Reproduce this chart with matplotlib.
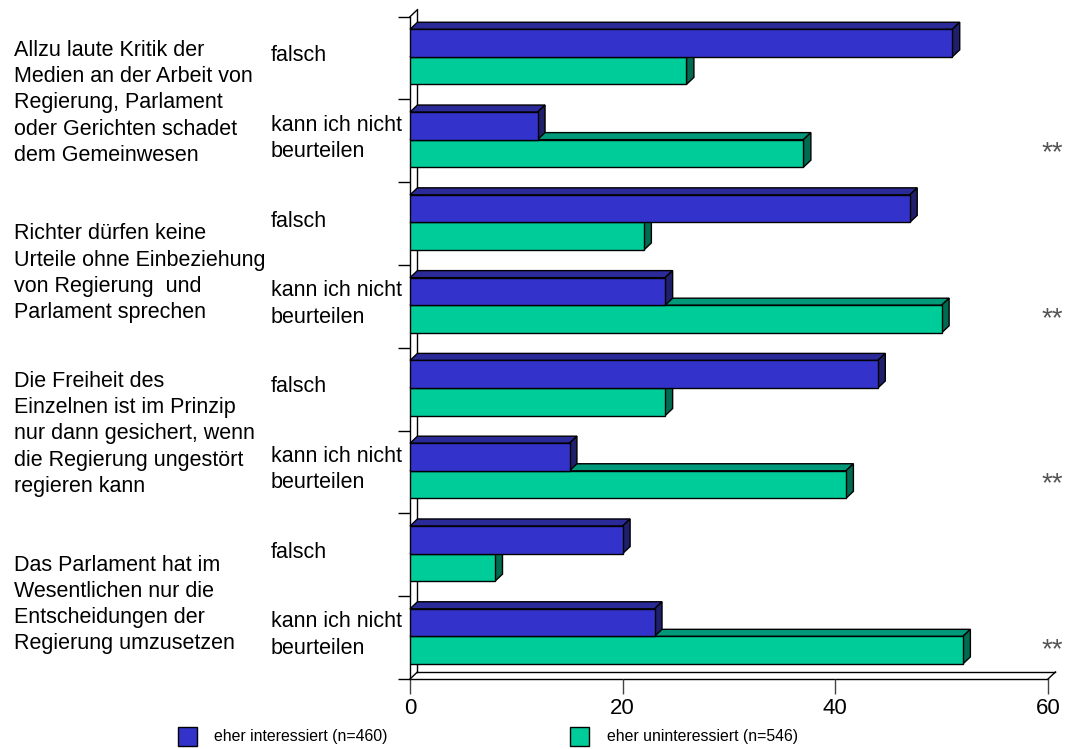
import matplotlib.pyplot as plt
import matplotlib.transforms as mtransforms
from matplotlib.patches import Polygon, Rectangle

plt.rcParams['font.family'] = ['Liberation Sans', 'DejaVu Sans']

# statements (each has two answer rows)
questions = [
    "Allzu laute Kritik der\nMedien an der Arbeit von\nRegierung, Parlament\noder Gerichten schadet\ndem Gemeinwesen",
    "Richter dürfen keine\nUrteile ohne Einbeziehung\nvon Regierung  und\nParlament sprechen",
    "Die Freiheit des\nEinzelnen ist im Prinzip\nnur dann gesichert, wenn\ndie Regierung ungestört\nregieren kann",
    "Das Parlament hat im\nWesentlichen nur die\nEntscheidungen der\nRegierung umzusetzen",
]
answers = ["falsch", "kann ich nicht\nbeurteilen"] * 4
significance = ["", "**"] * 4

interessiert = [51, 12, 47, 24, 44, 15, 20, 23]
uninteressiert = [26, 37, 22, 50, 24, 41, 8, 52]

series_labels = ["eher interessiert (n=460)", "eher uninteressiert (n=546)"]

# front / top / side shades for the pseudo-3D bars
blue = ("#3333cc", "#2a2a99", "#1f1f6b")
green = ("#00cc99", "#00997a", "#006b50")

W, H = 1066, 749
fig = plt.figure(figsize=(W / 100, H / 100), dpi=100)
ax = fig.add_axes([410 / W, (H - 679) / H, 638 / W, (679 - 16.7) / H])

n = len(answers)
ax.set_xlim(0, 60)
ax.set_ylim(n, 0)
for s in ax.spines.values():
    s.set_visible(False)

dx, dy = 0.70, 0.085   # depth offset in data units
y_off, h = 0.152, 0.333


def bar3d(y0, width, colors, z):
    front, top, side = colors
    ax.barh(y0, width, height=h, left=0, align='edge', color=front,
            edgecolor='black', linewidth=1, zorder=z + 1)
    ax.add_patch(Polygon([(0, y0), (width, y0), (width + dx, y0 - dy), (dx, y0 - dy)],
                         closed=True, facecolor=top, edgecolor='black', lw=1,
                         zorder=z, clip_on=False))
    ax.add_patch(Polygon([(width, y0), (width + dx, y0 - dy), (width + dx, y0 + h - dy),
                          (width, y0 + h)],
                         closed=True, facecolor=side, edgecolor='black', lw=1,
                         zorder=z, clip_on=False))


for i in range(n):
    bar3d(i + y_off + h, uninteressiert[i], green, 3)
    bar3d(i + y_off, interessiert[i], blue, 5)

# walls: left side and floor
line_kw = dict(color='black', lw=1, zorder=1, clip_on=False)
ax.plot([0, 0], [0, n], **line_kw)
ax.plot([dx, dx], [-dy, n - dy], **line_kw)
ax.plot([0, dx], [0, -dy], **line_kw)
ax.plot([0, dx], [n, n - dy], **line_kw)
ax.plot([0, 60], [n, n], **line_kw)
ax.plot([dx, 60 + dx], [n - dy, n - dy], **line_kw)
ax.plot([60, 60 + dx], [n, n - dy], **line_kw)

ax.set_yticks(range(n + 1))
ax.set_yticklabels([])
ax.tick_params(axis='y', direction='out', length=9, width=1, color='black')
ax.set_xticks([0, 20, 40, 60])
ax.tick_params(axis='x', direction='out', length=11, width=1, color='#444444',
               labelsize=16, pad=3)

# row and statement labels
trans = mtransforms.blended_transform_factory(fig.transFigure, ax.transData)
for i, a in enumerate(answers):
    ax.text(271 / W, i + 0.47, a, transform=trans, ha='left', va='center',
            fontsize=15.5, linespacing=1.35)
    if significance[i]:
        ax.text(60.4, i + y_off + 1.5 * h, significance[i], ha='center', va='center',
                fontsize=20, color='#555555')
for k, q in enumerate(questions):
    off = 1.04 if q.count("\n") == 4 else 1.10
    ax.text(14 / W, 2 * k + off, q, transform=trans, ha='left', va='center',
            fontsize=15.5, linespacing=1.33)

# legend
for x0, tx, col, lab in [(178, 214, blue[0], series_labels[0]),
                         (570, 607, green[0], series_labels[1])]:
    fig.patches.append(Rectangle((x0 / W, 3 / H), 19 / W, 19 / H, transform=fig.transFigure,
                                 facecolor=col, edgecolor='black', lw=1))
    fig.text(tx / W, 1 - 737 / H, lab, ha='left', va='center', fontsize=11.4)

fig.savefig("out.png", dpi=100)
